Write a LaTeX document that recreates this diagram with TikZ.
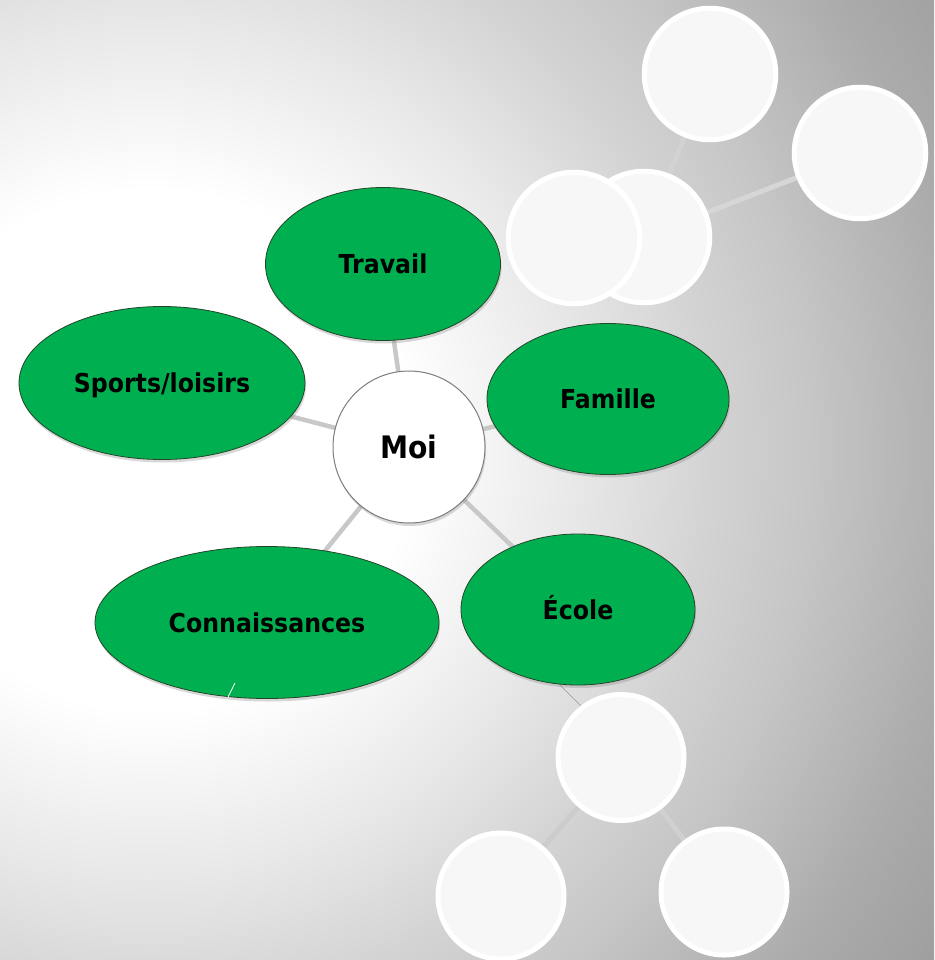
\documentclass[tikz,border=0pt]{standalone}
\usepackage{fontspec}
\setmainfont[FakeStretch=0.91]{DejaVu Sans}
\usetikzlibrary{shapes.geometric,shadows}
\definecolor{bgA}{RGB}{230,230,230}
\definecolor{bgB}{RGB}{211,211,211}
\definecolor{bgC}{RGB}{198,198,198}
\definecolor{bgD}{RGB}{171,171,171}
\definecolor{bgE}{RGB}{152,152,152}
\definecolor{grn}{RGB}{0,176,80}
\definecolor{ellline}{RGB}{35,70,40}
\definecolor{moiline}{RGB}{200,200,200}
\definecolor{moiborder}{RGB}{125,125,125}
\definecolor{satfill}{RGB}{247,247,247}
\definecolor{slA}{RGB}{210,210,210}
\definecolor{slB}{RGB}{214,214,214}
\definecolor{slC}{RGB}{208,208,208}
\definecolor{slD}{RGB}{204,204,204}
\definecolor{thinl}{RGB}{150,150,150}
\pgfdeclareradialshading{bgshade}{\pgfpoint{0bp}{0bp}}{color(0bp)=(white); color(6.5bp)=(white); color(11bp)=(bgA); color(14bp)=(bgB); color(16.5bp)=(bgC); color(20.5bp)=(bgD); color(25bp)=(bgE); color(50bp)=(bgE)}
\pgfdeclarelayer{bglayer}
\pgfdeclarelayer{linelayer}
\pgfsetlayers{bglayer,linelayer,main}
\begin{document}
\begin{tikzpicture}[x=1pt,y=-1pt,
  greenell/.style={ellipse, draw=ellline, line width=0.8pt, fill=grn, inner sep=0pt,
    font=\bfseries\fontsize{26}{30}\selectfont, text height=19pt, text depth=0pt,
    drop shadow={opacity=0.3, shadow xshift=1pt, shadow yshift=-3pt}},
  moinode/.style={circle, draw=moiborder, line width=1pt, fill=white, inner sep=0pt,
    minimum size=152pt, font=\bfseries\fontsize{31}{36}\selectfont, text height=22.6pt, text depth=0pt,
    drop shadow={opacity=0.3, shadow xshift=1pt, shadow yshift=-3pt}},
  sat/.style={circle, draw=white, line width=5pt, fill=satfill, inner sep=0pt, minimum size=131.5pt},
  satb/.style={sat, minimum size=126pt},
  moiconn/.style={draw=moiline, line width=4.5pt},
  satconn/.style={line width=5pt},
  thinconn/.style={draw=thinl, line width=0.7pt}]
\useasboundingbox (0,0) rectangle (934,960);
\begin{pgfonlayer}{bglayer}
  \begin{scope}
    \clip (0,0) rectangle (934,960);
    \shade[shading=bgshade] (150,450) circle (1000);
  \end{scope}
\end{pgfonlayer}

% green topics
\node[greenell, minimum width=235pt, minimum height=153pt] (travail) at (383,264) {Travail};
\node[greenell, minimum width=286pt, minimum height=153pt] (sports) at (162,383) {Sports/loisirs};
\node[greenell, minimum width=242pt, minimum height=151pt] (famille) at (608,399) {Famille};
\node[greenell, minimum width=344pt, minimum height=152pt] (conn) at (267,622.5) {Connaissances};
\node[greenell, minimum width=234pt, minimum height=151pt] (ecole) at (578,609.5) {École};
% centre
\node[moinode] (moi) at (409,447) {Moi};

% satellites top
\node[sat] (t2) at (644,237) {};
\node[sat] (t1) at (710,74) {};
\node[sat] (t3) at (860,153) {};
\node[sat] (t4) at (574,238) {};
% satellites bottom
\node[satb] (b0) at (621,757.5) {};
\node[satb] (bl) at (501,896) {};
\node[satb] (br) at (724,892) {};

\coordinate (ea) at (558,683);
\coordinate (eb) at (585,710);
\coordinate (ca) at (235,683);
\coordinate (cb) at (228,697);

\begin{pgfonlayer}{linelayer}
  \draw[moiconn] (moi.center) -- (travail.center);
  \draw[moiconn] (moi.center) -- (sports.center);
  \draw[moiconn] (moi.center) -- (famille.center);
  \draw[moiconn] (moi.center) -- (conn.center);
  \draw[moiconn] (moi.center) -- (ecole.center);
  \draw[satconn, draw=slA] (t1.center) -- (t2.center);
  \draw[satconn, draw=slB] (t2.center) -- (t3.center);
  \draw[satconn, draw=slC] (b0.center) -- (br.center);
  \draw[satconn, draw=slD] (b0.center) -- (bl.center);
  \draw[thinconn] (ea) -- (eb);
\end{pgfonlayer}
\draw[white, line width=0.7pt] (ca) -- (cb);
\end{tikzpicture}
\end{document}
